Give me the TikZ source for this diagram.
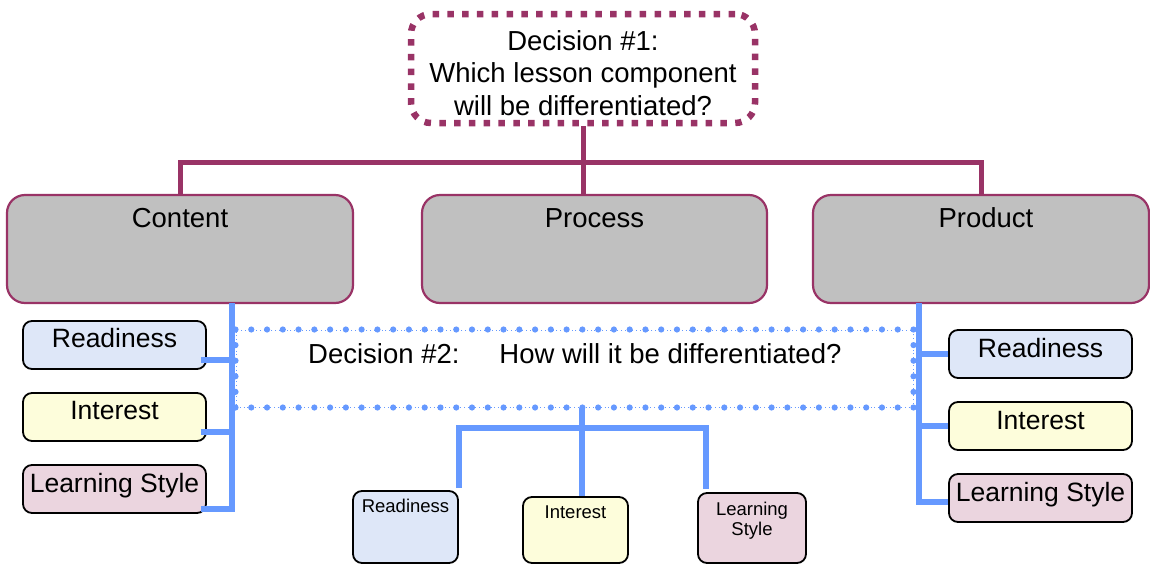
\documentclass[tikz,border=0pt]{standalone}
\usepackage{fontspec}
\setmainfont{Liberation Sans}
\usetikzlibrary{calc}

\definecolor{plum}{RGB}{153,51,102}
\definecolor{sky}{RGB}{102,153,255}
\definecolor{boxgray}{RGB}{192,192,192}
\definecolor{readfill}{RGB}{222,231,248}
\definecolor{intfill}{RGB}{253,253,219}
\definecolor{stylefill}{RGB}{235,213,223}

\tikzset{
  big/.style={font=\fontsize{27.5}{32.5}\selectfont, inner sep=0pt},
  side/.style={font=\fontsize{26.5}{30}\selectfont, inner sep=0pt},
  small/.style={font=\fontsize{18.5}{20}\selectfont, inner sep=0pt, align=center},
  topbox/.style={draw=plum, line width=6.5pt, dash pattern=on 6.5pt off 8.3pt,
    rounded corners=20pt, inner sep=0pt},
  compbox/.style={draw=plum, line width=2.2pt, fill=boxgray, rounded corners=18pt, inner sep=0pt},
  optbox/.style={draw=black, line width=1.8pt, rounded corners=9pt, inner sep=0pt},
  howbox/.style={draw=sky, line width=1pt, dash pattern=on 1pt off 2.8pt, inner sep=0pt},
  howdot/.style={fill=sky},
  plumlink/.style={draw=plum, line width=5pt},
  skylink/.style={draw=sky, line width=5.5pt},
}

\begin{document}
\begin{tikzpicture}[x=1pt, y=-1pt]
\useasboundingbox (0,0) rectangle (1150,565);

% Decision 1 and the three lesson components
\node[topbox, minimum width=344pt, minimum height=109pt] (decision1) at (583,68.5) {};
\node[big, align=center, anchor=north] (decision1text) at (583,30)
  {Decision \#1:\\Which lesson component\\will be differentiated?};

\node[compbox, minimum width=346pt, minimum height=108pt] (content) at (180,249) {};
\node[compbox, minimum width=345pt, minimum height=108pt] (process) at (594.5,249) {};
\node[compbox, minimum width=336pt, minimum height=108pt] (product) at (981,249) {};
\node[big, anchor=base] (contenttext) at ($(content.north)+(0,34)$) {Content};
\node[big, anchor=base] (processtext) at ($(process.north)+(0,34)$) {Process};
\node[big, anchor=base] (producttext) at ($(product.north)+(5,34)$) {Product};

\coordinate (hub1) at (583,162);
\draw[plumlink] (decision1.south) -- (hub1);
\draw[plumlink] (content.north) |- (hub1) -| (product.north);
\draw[plumlink] (hub1) -- (hub1 |- process.north);

% Decision 2: thin dotted frame with round dots along it
\node[howbox, minimum width=677pt, minimum height=77pt] (decision2) at (574.5,368.5) {};
\foreach \i in {0,...,43} {
  \fill[howdot] ($(decision2.north west)!\i/43!(decision2.north east)$) circle (3.1pt);
  \fill[howdot] ($(decision2.south west)!\i/43!(decision2.south east)$) circle (3.1pt);
}
\foreach \i in {1,...,4} {
  \fill[howdot] ($(decision2.north west)!\i/5!(decision2.south west)$) circle (3.1pt);
  \fill[howdot] ($(decision2.north east)!\i/5!(decision2.south east)$) circle (3.1pt);
}
\node[big, anchor=base west] (decision2text) at (308,363)
  {Decision \#2:\hspace{40pt}How will it be differentiated?};

% Options under Content
\node[optbox, fill=readfill, minimum width=183pt, minimum height=48pt] (lread) at (114.5,345) {};
\node[optbox, fill=intfill, minimum width=183pt, minimum height=48pt] (lint) at (114.5,417) {};
\node[optbox, fill=stylefill, minimum width=183pt, minimum height=48pt] (lstyle) at (114.5,489) {};
\node[side, anchor=base] (lreadtext) at ($(lread.north)+(0,27.5)$) {Readiness};
\node[side, anchor=base] (linttext) at ($(lint.north)+(0,27.5)$) {Interest};
\node[side, anchor=base] (lstyletext) at ($(lstyle.north)+(0,28)$) {Learning Style};

\coordinate (lbustop) at (232,303);
\coordinate (lj1) at (232,360);
\coordinate (lj2) at (232,432);
\draw[skylink] (lbustop) |- ($(lstyle.south east)+(-6,-5)$);
\draw[skylink] ([xshift=-6pt]lj1 -| lread.east) -- (lj1);
\draw[skylink] ([xshift=-6pt]lj2 -| lint.east) -- (lj2);

% Options under Product
\node[optbox, fill=readfill, minimum width=183pt, minimum height=48pt] (rread) at (1040.5,354) {};
\node[optbox, fill=intfill, minimum width=183pt, minimum height=48pt] (rint) at (1040.5,426) {};
\node[optbox, fill=stylefill, minimum width=183pt, minimum height=48pt] (rstyle) at (1040.5,498) {};
\node[side, anchor=base] (rreadtext) at ($(rread.north)+(0,28)$) {Readiness};
\node[side, anchor=base] (rinttext) at ($(rint.north)+(0,28)$) {Interest};
\node[side, anchor=base] (rstyletext) at ($(rstyle.north)+(0,28)$) {Learning Style};

\coordinate (rbustop) at (919,303);
\draw[skylink] (rbustop) |- ([yshift=-4pt]rstyle.west);
\draw[skylink] (rread.west) -- (rread.west -| rbustop);
\draw[skylink] (rint.west) -- (rint.west -| rbustop);

% Options under Process
\node[optbox, fill=readfill, minimum width=105pt, minimum height=72pt] (bread) at (405.5,527) {};
\node[optbox, fill=intfill, minimum width=105pt, minimum height=66pt] (bint) at (575.5,530) {};
\node[optbox, fill=stylefill, minimum width=108pt, minimum height=70pt] (bstyle) at (752,528) {};
\node[small, anchor=base] (breadtext) at ($(bread.north)+(0,22)$) {Readiness};
\node[small, anchor=base] (binttext) at ($(bint.north)+(0,22)$) {Interest};
\node[small, anchor=north] (bstyletext) at ($(bstyle.north)+(0,10)$) {Learning\\Style};

\coordinate (hub2) at (582,428);
\draw[skylink] (decision2.south -| hub2) -- (hub2);
\draw[skylink] ([yshift=2pt]bread.north east) |- (hub2) -| ([xshift=9pt,yshift=3pt]bstyle.north west);
\draw[skylink] (hub2) -- (hub2 |- bint.north);
\end{tikzpicture}
\end{document}
